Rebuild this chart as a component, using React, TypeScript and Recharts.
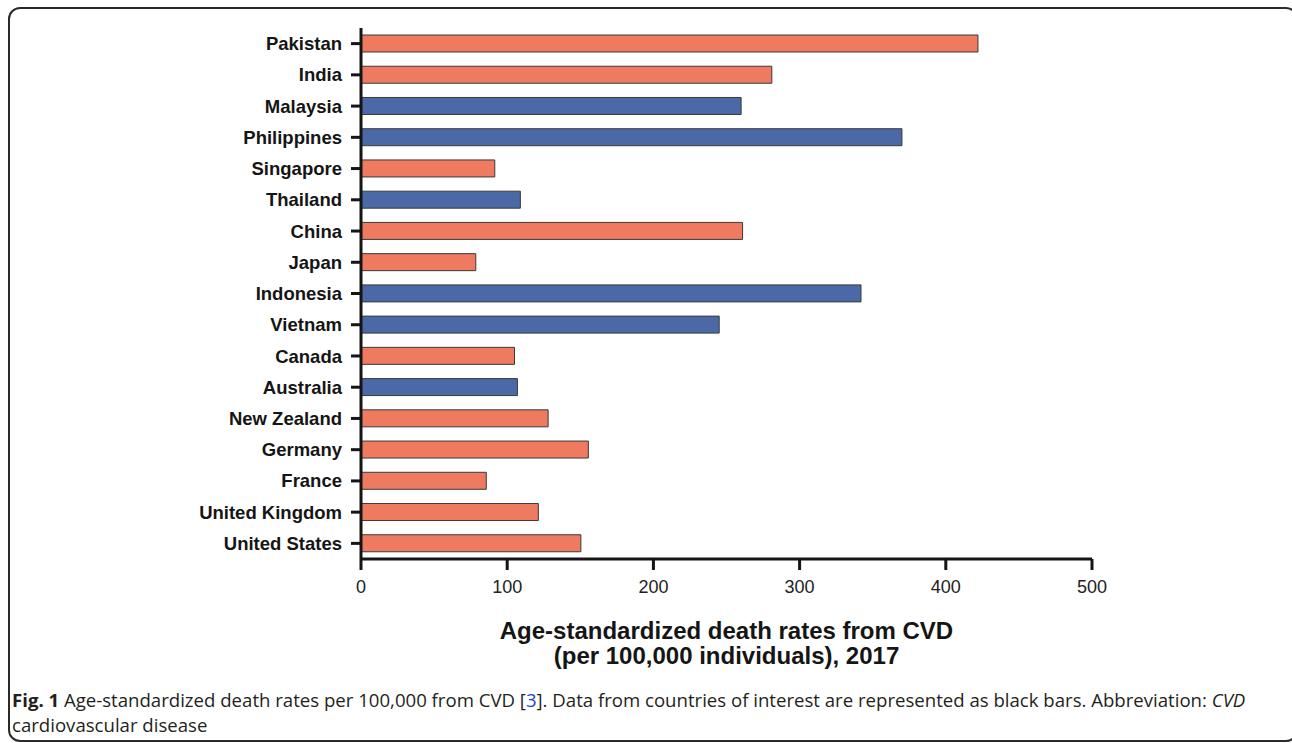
import React from 'react';
import { BarChart, Bar, XAxis, YAxis, Cell } from 'recharts';

const countries = [
  'Pakistan', 'India', 'Malaysia', 'Philippines', 'Singapore', 'Thailand', 'China', 'Japan',
  'Indonesia', 'Vietnam', 'Canada', 'Australia', 'New Zealand', 'Germany', 'France',
  'United Kingdom', 'United States',
];
const deathRates = [422, 281, 260, 370, 91.5, 109, 261, 78.5, 342, 245, 105, 107, 128, 155.5, 85.7, 121.3, 150.4];
const countriesOfInterest = ['Malaysia', 'Philippines', 'Thailand', 'Indonesia', 'Vietnam', 'Australia'];
const xTicks = [0, 100, 200, 300, 400, 500];

const data = countries.map((country, i) => ({ country, rate: deathRates[i] }));

const ORANGE = '#ee7a60';
const BLUE = '#4a69a6';
const INK = '#151515';

export default function App() {
  return (
    <div style={{ position: 'fixed', left: 0, top: 0, width: 1292, height: 743, overflow: 'hidden', background: '#fff' }}>
      <div
        style={{
          position: 'absolute', left: 8, top: 7, width: 1290, height: 735,
          border: '2px solid #2a2a2a', borderRadius: 12, boxSizing: 'border-box',
        }}
      />
      <div style={{ position: 'absolute', left: 0, top: 0 }}>
        <BarChart
          width={1292}
          height={743}
          layout="vertical"
          data={data}
          margin={{ top: 28, right: 200, bottom: 154, left: 0 }}
        >
          <XAxis
            type="number"
            domain={[0, 500]}
            ticks={xTicks}
            axisLine={{ stroke: INK, strokeWidth: 3 }}
            tickLine={{ stroke: INK, strokeWidth: 3 }}
            tickSize={11}
            tickMargin={10}
            height={30}
            tick={{ fill: '#222', fontSize: 18, fontFamily: 'Liberation Sans, Arial, sans-serif' }}
          />
          <YAxis
            type="category"
            dataKey="country"
            width={361}
            axisLine={{ stroke: INK, strokeWidth: 3 }}
            tickLine={{ stroke: INK, strokeWidth: 3 }}
            tickSize={10}
            tickMargin={9}
            interval={0}
            tick={{ fill: INK, fontSize: 18.5, fontWeight: 'bold', fontFamily: 'Liberation Sans, Arial, sans-serif' }}
          />
          <Bar dataKey="rate" barSize={17} stroke="#3a3a3a" strokeWidth={1} isAnimationActive={false}>
            {data.map((d) => (
              <Cell key={d.country} fill={countriesOfInterest.includes(d.country) ? BLUE : ORANGE} />
            ))}
          </Bar>
        </BarChart>
      </div>
      <div
        style={{
          position: 'absolute', left: 361, width: 731, top: 618, textAlign: 'center',
          fontFamily: 'Liberation Sans, Arial, sans-serif', fontWeight: 'bold', fontSize: 24,
          lineHeight: '25px', color: INK,
        }}
      >
        <div>Age-standardized death rates from CVD</div>
        <div>(per 100,000 individuals), 2017</div>
      </div>
      <div
        style={{
          position: 'absolute', left: 12, top: 687, width: 1275,
          fontFamily: '"Open Sans", sans-serif', fontSize: 18.6, lineHeight: '25px', color: '#231f20',
          whiteSpace: 'nowrap',
        }}
      >
        <b>Fig. 1</b> Age-standardized death rates per 100,000 from CVD [<span style={{ color: '#2b3fd6' }}>3</span>]. Data from countries of interest are represented as black bars. Abbreviation: <i>CVD</i>
        <br />
        cardiovascular disease
      </div>
    </div>
  );
}
